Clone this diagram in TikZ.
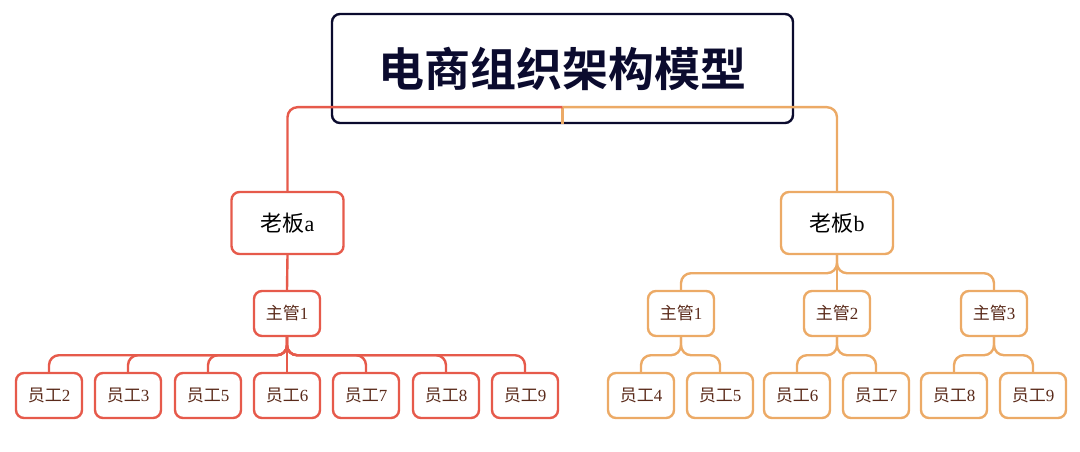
\documentclass[tikz,border=0pt]{standalone}
\usepackage{fontspec}
\setmainfont{Liberation Serif}
\newfontfamily\cjk{Noto Sans CJK SC}
\newfontfamily\cjkb{Noto Sans CJK SC Bold}
\definecolor{cred}{HTML}{E65A4B}
\definecolor{corg}{HTML}{ECAA66}
\definecolor{navy}{HTML}{0B0B2E}
\definecolor{ttxt}{HTML}{5A2A1A}
\begin{document}
\begin{tikzpicture}[x=1pt,y=-1pt,
  box/.style={draw,line width=2.4pt,rounded corners=8pt,fill=white,inner sep=0pt},
  boss/.style={box,minimum width=112pt,minimum height=62pt,font=\fontsize{22}{24}\selectfont,text=black},
  sup/.style={box,minimum width=66pt,minimum height=45pt,font=\fontsize{17}{19}\selectfont,text=ttxt},
  emp/.style={sup},
  ln/.style={line width=2.4pt,rounded corners=10pt}]
\useasboundingbox (0,0) rectangle (1080,452);
\node[box,draw=navy,minimum width=461pt,minimum height=109pt,font=\fontsize{46}{50}\selectfont\cjkb,text=navy] (root) at (562.5,68.5) {电商组织架构模型};
\node[boss,draw=cred] (ba) at (287.5,223) {{\cjk 老板}a};
\node[boss,draw=corg] (bb) at (837,223) {{\cjk 老板}b};
\node[sup,draw=cred] (sa) at (287,313.5) {{\cjk 主管}1};
\foreach \n/\x in {1/681,2/837,3/994}{\node[sup,draw=corg] (s\n) at (\x,313.5) {{\cjk 主管}\n};}
\foreach \t/\x [count=\i] in {2/49,3/128,5/208,6/287,7/366,8/446,9/525}{\node[emp,draw=cred] (ea\i) at (\x,395.5) {{\cjk 员工}\t};}
\foreach \t/\x/\p [count=\i] in {4/641/1,5/720/1,6/797/2,7/876/2,8/954/3,9/1033/3}{\node[emp,draw=corg] (eb\i) at (\x,395.5) {{\cjk 员工}\t};}
\begin{scope}[on background layer/.style={}]
\end{scope}
\coordinate (rj) at ([yshift=17pt]root.south);
\draw[ln,corg] (root.south) -- (rj);
\draw[ln,cred] (rj) -| (ba.north);
\draw[ln,corg] (rj) -| (bb.north);
\draw[ln,cred] (ba.south) -- (sa.north);
\foreach \i in {1,...,7}{\draw[ln,cred] (sa.south) -- ++(0,18) -| (ea\i.north);}
\foreach \i in {1,2,3}{\draw[ln,corg] (bb.south) -- ++(0,18) -| (s\i.north);}
\draw[ln,corg] (s1.south) -- ++(0,18) -| (eb1.north);
\draw[ln,corg] (s1.south) -- ++(0,18) -| (eb2.north);
\draw[ln,corg] (s2.south) -- ++(0,18) -| (eb3.north);
\draw[ln,corg] (s2.south) -- ++(0,18) -| (eb4.north);
\draw[ln,corg] (s3.south) -- ++(0,18) -| (eb5.north);
\draw[ln,corg] (s3.south) -- ++(0,18) -| (eb6.north);
\end{tikzpicture}
\end{document}
